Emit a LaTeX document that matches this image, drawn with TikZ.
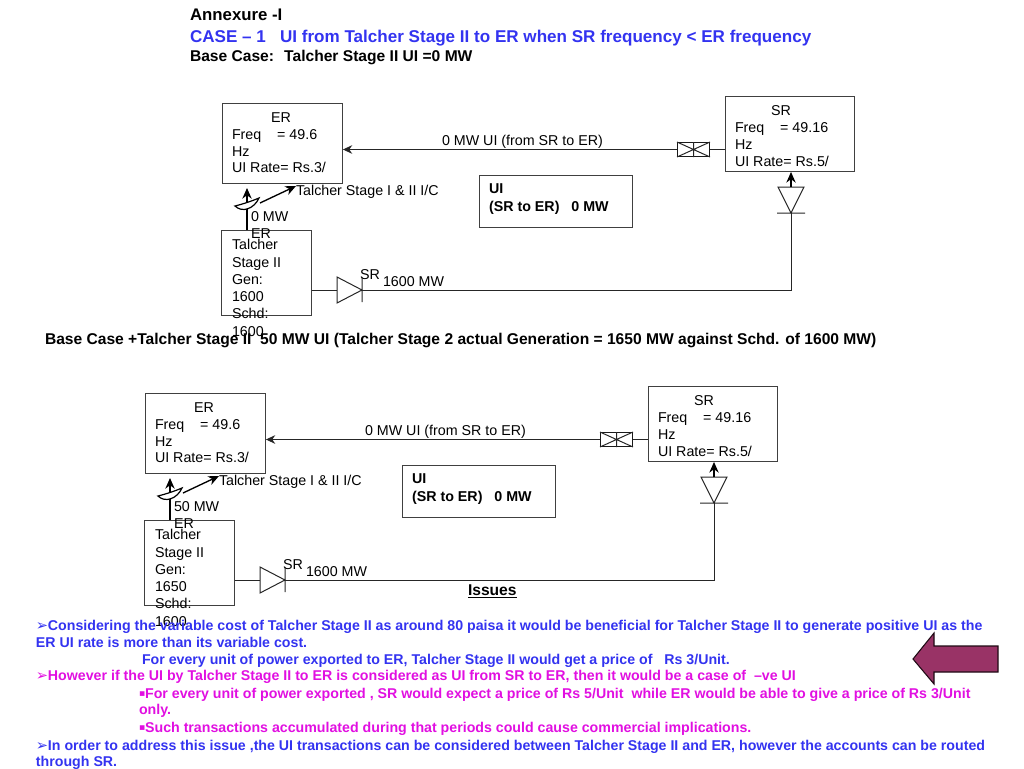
\documentclass[tikz,border=0pt]{standalone}
\usepackage{fontspec}
\setmainfont{Liberation Sans}
\newfontfamily\symf{DejaVu Sans}
\usetikzlibrary{arrows.meta}
\definecolor{bl}{RGB}{51,51,240}
\definecolor{mg}{RGB}{225,15,225}
\definecolor{plum}{RGB}{153,51,102}
\tikzset{
  x=0.75pt,y=-0.75pt,
  lbl/.style={anchor=base west,inner sep=0pt,outer sep=0pt,font=\fontsize{10.7}{13}\selectfont},
  ttl/.style={lbl,font=\fontsize{11.7}{14}\selectfont\bfseries},
  sub/.style={lbl,font=\fontsize{10.7}{13}\selectfont\bfseries},
  body/.style={lbl,font=\fontsize{10.64}{13}\selectfont\bfseries},
  bx/.style={draw=black!75,line width=0.7pt,inner sep=0pt,anchor=north west},
  wire/.style={draw=black!85,line width=0.7pt},
  arr/.style={wire,-{Stealth[length=7pt,width=6.5pt]}},
  heavy/.style={draw=black,line width=1pt,-{Stealth[length=8pt,width=7pt]}},
  thin/.style={draw=black!85,line width=0.75pt}
}
\newcommand{\boxat}[5]{\node[bx,minimum width=#4*0.75pt,minimum height=#5*0.75pt] (#1) at (#2,#3) {};}
\newcommand{\arrowbul}{\makebox[9pt][l]{\symf\fontsize{11}{12}\selectfont ➢}}
\newcommand{\squarebul}{\makebox[4.6pt][l]{\raisebox{1pt}{\symf\fontsize{7}{10}\selectfont ▪}}}
% #1 prefix, #2 generation, #3 MW label, drawn in a shifted scope
\newcommand{\flow}[3]{%
  \boxat{#1er}{222}{103}{120}{80}
  \boxat{#1sr}{725}{96}{129}{75}
  \boxat{#1tal}{221}{230}{90}{85}
  \boxat{#1ui}{479}{175}{153}{52}
  \node[lbl] (#1era) at (271,122) {ER};
  \node[lbl] (#1erb) at (232,139) {Freq \ \ \ = 49.6};
  \node[lbl] (#1erc) at (232,156) {Hz};
  \node[lbl] (#1erd) at (232,172) {UI Rate= Rs.3/};
  \node[lbl] (#1sra) at (771,115) {SR};
  \node[lbl] (#1srb) at (735,132) {Freq \ \ \ = 49.16};
  \node[lbl] (#1src) at (735,149) {Hz};
  \node[lbl] (#1srd) at (735,166) {UI Rate= Rs.5/};
  \node[lbl] (#1ta) at (232,249) {Talcher};
  \node[lbl] (#1tb) at (232,267) {Stage II};
  \node[lbl] (#1tc) at (232,284) {Gen:};
  \node[lbl] (#1td) at (232,301) {#2};
  \node[lbl] (#1te) at (232,318) {Schd:};
  \node[lbl] (#1tf) at (232,336) {1600};
  \node[sub] (#1uia) at (489,193) {UI};
  \node[sub] (#1uib) at (489,211) {(SR to ER) \ \ 0 MW};
  \node[lbl] (#1flow) at (442,145) {0 MW UI (from SR to ER)};
  \node[lbl] (#1ic) at (296,195) {Talcher Stage I \& II I/C};
  \node[lbl] (#1mwa) at (251,221) {#3};
  \node[lbl] (#1mwb) at (251,238) {ER};
  \node[lbl] (#1srl) at (360,279) {SR};
  \node[lbl] (#1mw) at (383,286) {1600 MW};
  % cross box on the ER-SR tie
  \node[draw=black!90,line width=0.75pt,minimum width=32*0.75pt,minimum height=14*0.75pt,inner sep=0pt,anchor=north west] (#1x) at (677,142) {};
  \draw[thin] (#1x.north west) -- (#1x.south east) (#1x.south west) -- (#1x.north east) (#1x.north) -- (#1x.south);
  \draw[wire] (#1sr.west |- #1x.east) -- (#1x.east);
  \draw[arr] (#1x.west) -- (#1er.east |- #1x.west);
  % horizontal diode
  \coordinate (#1ha) at (337,290);
  \coordinate (#1hb) at (362,290);
  \draw[thin] (337,277) -- (#1hb) -- (337,303) -- cycle (362,277) -- (362,302);
  \draw[wire] (#1tal.east |- #1ha) -- (#1ha);
  % vertical diode
  \coordinate (#1va) at (791,187);
  \coordinate (#1vb) at (791,213);
  \draw[thin] (778,187) -- (#1vb) -- (804,187) -- cycle (777,213) -- (805,213);
  \draw[heavy] (#1va) -- (#1sr.south -| #1va);
  \draw[wire] (#1hb) -- (#1hb -| #1vb) -- (#1vb);
  % metering switch
  \coordinate (#1sw) at (247,188);
  \draw[heavy] (#1tal.north -| #1sw) -- (#1sw);
  \draw[black,line width=0.9pt,fill=white] (235,206) .. controls (242,213) and (254,209) .. (259,198) .. controls (252,201) and (243,204) .. (235,206) -- cycle;
  \coordinate (#1sa) at (260,203);
  \coordinate (#1sb) at (296,186);
  \draw[heavy] (#1sa) -- (#1sb);
}
\begin{document}
\begin{tikzpicture}
\useasboundingbox (0,0) rectangle (1024,768);
\node[ttl,font=\fontsize{12.6}{14}\selectfont\bfseries] (h1) at (190,20) {Annexure -I};
\node[ttl,text=bl,font=\fontsize{12.8}{15}\selectfont\bfseries] (h2) at (190,42) {CASE – 1 \ \ UI from Talcher Stage II to ER when SR frequency < ER frequency};
\node[ttl] (h3) at (190,61) {Base Case: \ Talcher Stage II UI =0 MW};
\node[ttl] (h4) at (45,344) {Base Case +Talcher Stage II \ 50 MW UI (Talcher Stage 2 actual Generation = 1650 MW against Schd. of 1600 MW)};
\flow{a}{1600}{0 MW}
\begin{scope}[shift={(-77,290)}]
\flow{b}{1650}{50 MW}
\end{scope}
\node[ttl] (iss) at (468,595) {\underline{Issues}};
\node[body,text=bl] (l1) at (36,630) {\arrowbul Considering the variable cost of Talcher Stage II as around 80 paisa it would be beneficial for Talcher Stage II to generate positive UI as the};
\node[body,text=bl] (l2) at (36,647) {ER UI rate is more than its variable cost.};
\node[body,text=bl] (l3) at (142,664) {For every unit of power exported to ER, Talcher Stage II would get a price of \ \ Rs 3/Unit.};
\node[body,text=mg] (l4) at (36,680) {\arrowbul However if the UI by Talcher Stage II to ER is considered as UI from SR to ER, then it would be a case of \ –ve UI};
\node[body,text=mg] (l5) at (139,698) {\squarebul For every unit of power exported , SR would expect a price of Rs 5/Unit \ while ER would be able to give a price of Rs 3/Unit};
\node[body,text=mg] (l6) at (139,714) {only.};
\node[body,text=mg] (l7) at (139,732) {\squarebul Such transactions accumulated during that periods could cause commercial implications.};
\node[body,text=bl] (l8) at (36,750) {\arrowbul In order to address this issue ,the UI transactions can be considered between Talcher Stage II and ER, however the accounts can be routed};
\node[body,text=bl] (l9) at (36,766) {through SR.};
\draw[fill=plum,draw=black!80!plum,line width=0.8pt] (913,659) -- (934,633) -- (934,646) -- (998,646) -- (998,672) -- (934,672) -- (934,684) -- cycle;
\end{tikzpicture}
\end{document}
